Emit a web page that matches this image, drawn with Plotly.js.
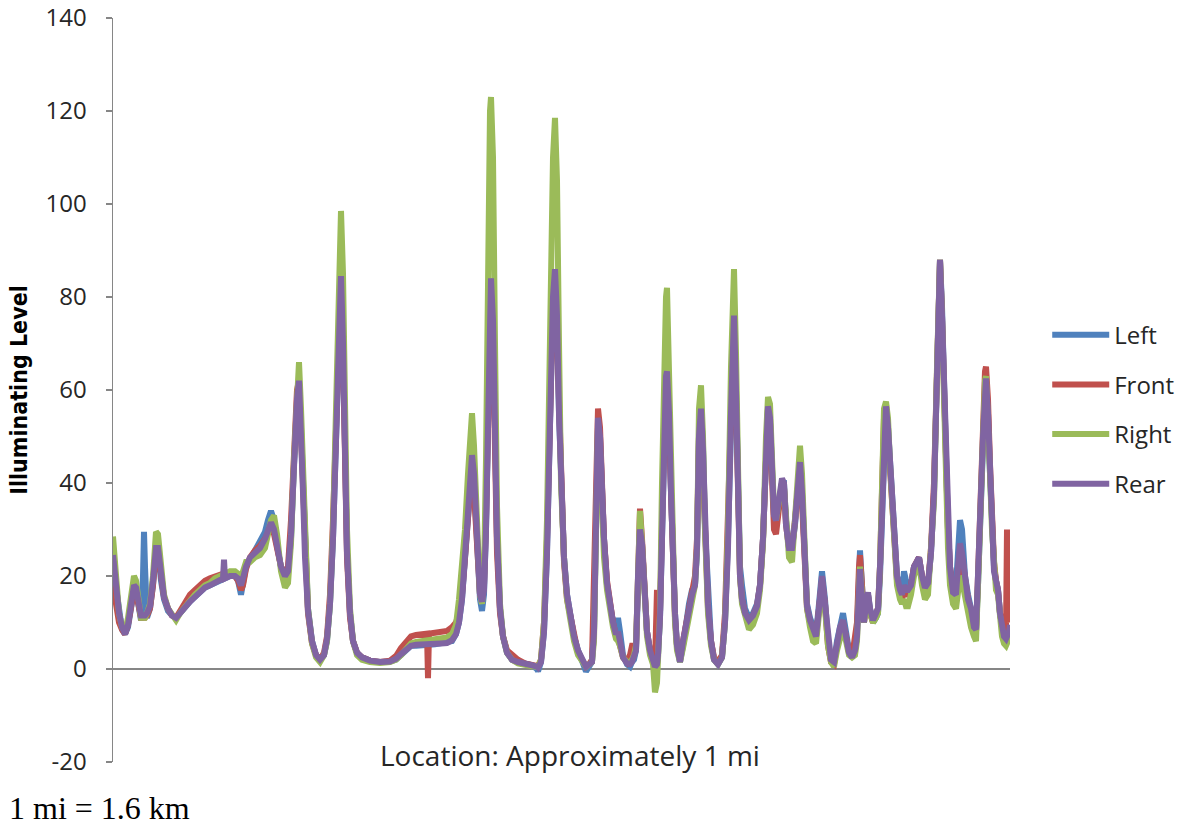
<!DOCTYPE html>
<html>
<head>
<meta charset="utf-8">
<script src="https://cdn.plot.ly/plotly-3.0.1.min.js"></script>
<style>
  html, body { margin: 0; padding: 0; background: #ffffff; }
  #chart { width: 1182px; height: 825px; }
</style>
</head>
<body>
<div id="chart"></div>
<script>
// Sample positions along the route (sample index, ~1 mi in total)
const position = [
  0,3,6,9,12,15,18,21,23,26,28,30,31,32,
  34,37,40,43,45,48,51,55,59,63,67,72,77,82,87,92,97,102,107,
  110,111,112,117,122,125,128,130,133,137,142,147,152,155,158,161,164,168,172,175,
  178,181,184,186,188,190,192,195,199,203,207,211,214,217,220,223,226,228,230,232,234,
  237,240,244,249,257,267,277,283,288,293,298,303,309,314,315,316,322,328,334,339,343,
  346,349,352,355,357,359,361,364,367,369,371,373,375,377,378,380,382,384,387,390,394,
  399,405,412,419,424,425,428,431,434,437,440,442,444,446,448,451,454,457,461,465,469,
  473,476,479,481,483,485,487,489,491,494,497,500,503,505,507,510,514,
  517,519,521,523,525,527,529,531,534,537,540,542,544,545,547,549,551,553,554,556,558,560,562,564,567,
  570,573,576,579,582,584,586,588,590,592,595,598,601,605,609,612,615,618,620,621,623,625,627,629,
  632,636,640,644,647,650,653,655,657,659,661,663,666,669,671,673,676,679,682,685,687,689,691,694,697,
  700,703,706,709,712,715,718,721,724,727,730,733,736,739,742,744,746,747,749,751,753,755,757,760,763,
  765,767,769,771,773,775,777,780,784,787,789,791,793,795,798,801,804,806,809,812,815,818,821,824,827,829,831,833,835,837,840,
  843,845,847,849,852,855,858,861,863,865,867,870,872,873,875,877,879,881,883,885,887,889,891,893,894,896,897
];

// Illuminating level recorded by each sensor
const left = [
  22,17,11,8.5,7.5,9,13,17,17,12,10.5,20,29.5,22,
  11,13,18,26,25.5,19,15,12.5,11.5,11,12,13.5,14.5,15.5,16.5,17.5,18,18.5,19,
  19.5,19.5,19.5,20,20,19,16,18,22,23.5,25.5,27,29.5,32,34,32,26.5,22,20.5,21,
  28,44,58,61,52,38,24,13,6,3,2,3,6,14,28,50,78,84,70,45,25,
  12,6,3.5,2.5,1.8,1.5,1.6,2,3,4,5,5,5.2,5.2,5.2,5.2,5.3,5.5,5.6,6,7.5,
  10,15,24,34,40,44,40,26,15,12.5,16,30,55,80,84,75,50,28,13,7,3.5,
  2,1.5,1,0.8,0,-0.5,1.5,8,25,55,80,86,75,55,38,24,16,12,7,4,2,
  -0.5,0.5,1.5,8,35,52,50,38,28,18,13,10,8,11,8,3,1,
  0.5,1.5,2,4,20,30,27,17,8,4,2,1,1,3,11,32,52,62,64,55,38,22,12,5,1.5,
  5,11,14,17,18,25,50,56,48,30,14,6,2,1,2.5,10,28,55,72,75,60,35,22,18,
  13,11,12,14,18,28,48,56,53,42,33,31,35,40,40,32,27,26,31,40,44,38,28,14,11,
  9,7.5,14,21,15,6,2,1.5,6,10,12,8,4,2.5,5,8,22,25.5,18,11,14,16,13,10,11,
  12,20,33,50,56,52,44,30,20,17,16,21,19,17,18,22,23,24,20,17,18,25,38,65,88,78,60,44,30,22,17,
  18,26,32,30,20,16,13,10,8,18,32,50,60,62,55,42,30,22,19,17,12,9,7,6.5,7,8,9
];

const front = [
  18,14,10,8.5,7.5,9.5,13,17,16.5,12,11,11,11,11,
  11.5,13,18,25.5,25,19,15.5,13,11.5,11,12.5,14.5,16,17,18,19,19.5,20,20.5,
  20.5,20.5,20.5,20.5,20,19,17,18,21.5,24,25.5,26.5,28,29.5,30.5,29,26,22,20.5,22,
  32,48,60,62,50,36,23,12,5.5,3,2,3.5,7,16,32,55,80,84,68,42,24,
  11,6,3.5,2.5,1.8,1.5,1.8,2.8,4.5,5.8,7,7.3,7.5,7.6,-2,7.6,7.8,8,8.2,9,10,
  12,16,24,34,40,44,38,25,16,15,18,32,55,82,84,70,45,25,12,7,4,
  3,2,1.2,0.8,0.6,0.6,2,10,28,55,80,86,72,52,36,23,15,11.5,7,3.5,2,
  0.5,1,2,20,48,56,52,38,28,19,13,10,7,7,5,2.5,1.5,
  3,5,5,4.5,22,34.5,28,18,8,4,2,1,17,5,12,35,50,60,62,52,35,20,11,5,2,
  6,10,13,16,20,28,50,55,45,28,13,6,2.5,1.5,3,12,30,55,72,75,58,33,20,15,
  12,10.5,11.5,13.5,18,28,48,56,53,40,30,29,35,40,39,31,26,26,32,40,44,36,26,13,10,
  8,7,13,19,14,5,1.5,1,5,8,10,7,3.5,2.5,6,10,22,24.5,18,10,14,16,12,10,12,
  13,22,36,54,57,50,42,28,19,16,15,17,16,16,18,22,23,24,20,17,18,26,40,67,88,76,58,42,30,22,16,
  15,20,24,24,18,15,12,9,8,20,34,56,64,65,58,44,32,23,19,17,12,9,7,8,30,12,10
];

const right = [
  28.5,20,12,9,8,11,16,20,19,13,11,11,11,11,
  12,14,20,29.5,29,21,16,13,11.5,10.5,12,13.5,15,16,17,18,18.5,19.5,20,
  20.5,20.5,20.5,21,21,20.5,20,21,23,23,24,24.5,26,29,32,33,29,21,17.5,18.5,
  27,45,63,66,56,42,26,13,5.5,2.5,1.5,3,6,14,30,55,92,98.5,85,55,30,
  13,6,3,2,1.5,1.3,1.5,2,3,4.2,5.5,5.8,6,6,6,6,6.2,6.5,6.8,7.5,9.5,
  15,21,30,42,50,55,48,28,16,14,20,45,90,120,123,110,70,35,14,7,3.5,
  2,1.2,0.8,0.6,0.5,0.5,2,10,32,75,110,118.5,105,70,40,24,15,11,6,3,1.5,
  0.5,1,1.5,6,30,52,48,32,24,17,12,9,6.5,6,5,2.5,1.5,
  1.5,2,3,5,24,34,27,17,7,3,1,-5,-3,2,12,40,65,80,82,65,40,22,10,4,1.5,
  4.5,8,11,14,18,26,56,61,50,30,12,5,2,1,2.5,10,30,65,83,86,68,38,20,14,
  11,8.5,9.5,12,17,27,50,58.5,57,44,34,32,36,40,39,31,24,23,33,44,48,42,30,13,9,
  6,5.5,11,18,13,5,1.5,0.5,4,7,9,6,3,2.5,3,6,20,22,16,10,13,15,12,10,11,
  12,22,36,56,57.5,54,44,32,18,15,14,15,13.5,13.5,16,20,22,23,18,15,16,24,36,65,88,75,56,40,26,18,14,
  13,18,20,19,15,12,9,7,6,18,32,52,62,63,55,42,30,20,17,16,10,7,5.5,5,5.5,6.5,8
];

const rear = [
  24.5,18,12,9,7.5,9.5,13.5,18,17.5,12.5,11.5,11.5,11.5,11.5,
  12,13.5,19,26,26,19.5,15.5,13,11.5,11,12,13.5,14.5,15.5,16.5,17.5,18,18.5,19,
  19.5,23.5,19.5,20,20,19.5,18,19.5,22,24,25,26,28,30,31.5,30,26.5,22,20,21,
  29,45,58,62,52,38,24,12.5,6,3,2,3,6.5,14,28,50,78,84.5,70,45,25,
  12,6,3.5,2.5,1.8,1.5,1.6,2.2,3.2,4.2,5,5.2,5.2,5.3,5.3,5.3,5.3,5.5,5.6,6.2,7.5,
  10,15,24,35,42,46,42,27,16,14.5,17,30,58,82,84,75,50,28,13,7,3.5,
  2,1.5,1,0.8,0.5,0.3,1.5,8,25,55,80,86,76,55,38,24,16,12,7,4,2,
  0.5,1,1.5,8,40,54,50,38,28,18.5,13,10,7.5,8,6,2.5,1.2,
  1,1.5,2.5,4,20,30,27,17,8,4,2,0.5,1,3,11,32,52,63,64,55,38,22,12,5,1.5,
  6,10,13,16,18,26,50,56,47,29,14,6,2,1,2.5,10,26,55,72,76,60,33,20,15,
  12,10.5,11.5,13.5,18,28,48,56.5,54,42,33,32,36,41,40,31,26,26,31.5,41,44.5,38,28,13.5,10.5,
  8.5,7,13,20,14,6,2,1.5,5,9,10.5,7,3.5,2.5,4,7,20,21.5,15,10,14,16.5,13,10.5,12,
  13,22,33,52,56.5,52,45,30.5,20,17,16,18,17,17,18,22,23,24,20,17.5,18.5,25,38,65,88,76,60,44,30,22,16.5,
  16,22,27,25,18.5,15,13,9,8.5,18,32,50,61,62.5,55,42,30,21,19,17,12,9,7,6.5,7,8,9.5
];

const seriesNames = ['Left', 'Front', 'Right', 'Rear'];
const seriesColors = ['#4F81BD', '#C0504D', '#9BBB59', '#8064A2'];
const yTicks = [-20, 0, 20, 40, 60, 80, 100, 120, 140];

const values = [left, front, right, rear];
const traces = values.map((ys, i) => ({
  type: 'scatter',
  mode: 'lines',
  name: seriesNames[i],
  legendgroup: seriesNames[i],
  x: position,
  y: ys,
  line: { color: seriesColors[i], width: 6, shape: 'linear' },
  hoverinfo: 'skip'
}));

const axisGrey = '#868686';
const textFont = 'Open Sans, Lato, sans-serif';

const layout = {
  width: 1182,
  height: 825,
  paper_bgcolor: '#ffffff',
  plot_bgcolor: '#ffffff',
  // fixed plot area; the legend sits in the right margin without resizing it
  margin: { l: 113, r: 172, t: 18, b: 63, pad: 0, autoexpand: false },
  showlegend: true,
  legend: {
    x: 1.0415, xanchor: 'left',
    y: 0.604, yanchor: 'top',
    font: { family: textFont, size: 24, color: '#262626' },
    tracegroupgap: 15.5,
    itemwidth: 57,
    bgcolor: 'rgba(0,0,0,0)'
  },
  xaxis: {
    range: [0, 897],
    showticklabels: false,
    showline: false,
    showgrid: false,
    zeroline: false,
    ticks: ''
  },
  yaxis: {
    range: [-20, 140],
    tickvals: yTicks,
    ticktext: yTicks.map(String),
    ticks: 'outside',
    ticklen: 6,
    tickwidth: 1.5,
    tickcolor: axisGrey,
    ticklabelstandoff: 14,
    tickfont: { family: textFont, size: 24, color: '#262626' },
    showline: true,
    linecolor: axisGrey,
    linewidth: 1.5,
    showgrid: false,
    zeroline: true,
    zerolinecolor: axisGrey,
    zerolinewidth: 1.5,
    title: {
      text: 'Illuminating Level',
      font: { family: 'Liberation Sans Narrow, DejaVu Sans Condensed, sans-serif', size: 23, color: '#000000', weight: 'bold' },
      standoff: 11
    }
  },
  annotations: [
    {
      text: 'Location: Approximately 1 mi',
      xref: 'paper', yref: 'paper',
      x: 0.51, y: 0.01,
      xanchor: 'center', yanchor: 'middle',
      showarrow: false,
      font: { family: textFont, size: 28, color: '#262626' }
    },
    {
      text: '1 mi = 1.6 km',
      xref: 'paper', yref: 'paper',
      x: -0.118, y: -0.062,
      xanchor: 'left', yanchor: 'middle',
      showarrow: false,
      font: { family: 'Liberation Serif, Times New Roman, serif', size: 32, color: '#000000' }
    }
  ],
  hovermode: false
};

Plotly.newPlot('chart', traces, layout, { displayModeBar: false, staticPlot: true });
</script>
</body>
</html>
